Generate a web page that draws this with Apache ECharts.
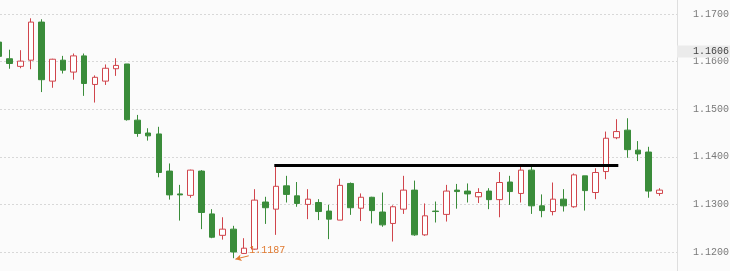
<!DOCTYPE html>
<html>
<head>
<meta charset="utf-8">
<script src="https://cdn.jsdelivr.net/npm/echarts@6/dist/echarts.min.js"></script>
<style>
html,body{margin:0;padding:0;background:#fbfbfb;}
#chart{width:730px;height:271px;}
</style>
</head>
<body>
<div id="chart"></div>
<script>
// candle index (category) positions
const categories = [0,1,2,3,4,5,6,7,8,9,10,11,12,13,14,15,16,17,18,19,20,21,22,23,24,25,26,27,28,29,30,31,32,33,34,35,36,37,38,39,40,41,42,43,44,45,46,47,48,49,50,51,52,53,54,55,56,57,58,59,60,61,62];
const opens  = [1.1641,1.1606,1.1590,1.1603,1.1683,1.1559,1.1603,1.1578,1.1612,1.1552,1.1559,1.1585,1.1595,1.1477,1.1450,1.1448,1.1370,1.1322,1.1319,1.1370,1.1280,1.1235,1.1248,1.1197,1.1206,1.1305,1.1290,1.1339,1.1318,1.1300,1.1304,1.1286,1.1267,1.1344,1.1292,1.1315,1.1284,1.1260,1.1290,1.1330,1.1236,1.1286,1.1279,1.1330,1.1328,1.1316,1.1328,1.1310,1.1347,1.1323,1.1372,1.1297,1.1285,1.1311,1.1295,1.1360,1.1325,1.1369,1.1440,1.1456,1.1414,1.1410,1.1323];
const closes = [1.1611,1.1596,1.1601,1.1683,1.1562,1.1605,1.1582,1.1612,1.1554,1.1567,1.1586,1.1592,1.1478,1.1449,1.1444,1.1367,1.1320,1.1320,1.1372,1.1283,1.1231,1.1248,1.1200,1.1208,1.1309,1.1293,1.1338,1.1321,1.1302,1.1311,1.1285,1.1269,1.1340,1.1293,1.1315,1.1287,1.1257,1.1295,1.1330,1.1236,1.1276,1.1285,1.1328,1.1327,1.1322,1.1325,1.1310,1.1346,1.1327,1.1372,1.1297,1.1287,1.1311,1.1297,1.1362,1.1329,1.1367,1.1439,1.1453,1.1415,1.1406,1.1328,1.1330];
const lows   = [1.1603,1.1585,1.1586,1.1584,1.1536,1.1545,1.1575,1.1562,1.1528,1.1514,1.1551,1.1570,1.1476,1.1442,1.1434,1.1357,1.1310,1.1266,1.1314,1.1248,1.1229,1.1226,1.1187,1.1196,1.1205,1.1259,1.1236,1.1304,1.1295,1.1269,1.1267,1.1227,1.1267,1.1278,1.1265,1.1260,1.1253,1.1222,1.1280,1.1234,1.1234,1.1262,1.1264,1.1291,1.1304,1.1303,1.1290,1.1273,1.1299,1.1304,1.1280,1.1273,1.1277,1.1285,1.1293,1.1287,1.1311,1.1353,1.1437,1.1398,1.1391,1.1314,1.1318];
const highs  = [1.1648,1.1625,1.1624,1.1691,1.1689,1.1606,1.1612,1.1617,1.1617,1.1571,1.1594,1.1607,1.1595,1.1488,1.1460,1.1463,1.1386,1.1341,1.1373,1.1372,1.1290,1.1273,1.1255,1.1229,1.1332,1.1316,1.1383,1.1360,1.1347,1.1332,1.1311,1.1299,1.1354,1.1346,1.1323,1.1316,1.1325,1.1298,1.1360,1.1350,1.1302,1.1306,1.1341,1.1343,1.1344,1.1334,1.1334,1.1368,1.1360,1.1381,1.1381,1.1321,1.1346,1.1332,1.1365,1.1360,1.1376,1.1453,1.1479,1.1481,1.1433,1.1421,1.1334];

// y axis tick levels
const yTicks = [1.11, 1.12, 1.13, 1.14, 1.15, 1.16, 1.17, 1.18];
// annotations
const currentPrice = 1.1606;
const resistanceLevel = 1.1383;
const resistanceSpan = [25.85, 58.15];
const lowIndex = 22;
const lowValue = 1.1187;

const RED = '#d0454c', GREEN = '#3a8c3a';
const MONO = '"Liberation Mono", "DejaVu Sans Mono", monospace';

const candleData = categories.map((c, i) => [c, opens[i], closes[i], lows[i], highs[i]]);

const chart = echarts.init(document.getElementById('chart'), null, {renderer: 'canvas'});
chart.setOption({
  animation: false,
  backgroundColor: '#fbfbfb',
  grid: {left: 0, right: 53, top: -33.6, bottom: -28.6, outerBoundsMode: 'none', containLabel: false},
  xAxis: {
    type: 'value', min: 0.094, max: 63.66,
    show: true,
    axisLine: {show: false}, axisTick: {show: false}, axisLabel: {show: false},
    splitLine: {show: false}
  },
  yAxis: {
    type: 'value', position: 'right',
    min: yTicks[0], max: yTicks[yTicks.length - 1], interval: 0.01,
    axisLine: {show: true, lineStyle: {color: '#dedede', width: 1}},
    axisTick: {show: false},
    axisLabel: {
      show: true, margin: 16, color: '#7a7a7a', fontSize: 10, fontFamily: MONO,
      formatter: v => v.toFixed(4)
    },
    splitLine: {show: true, lineStyle: {color: '#d8d8d8', width: 1, type: [2, 2]}}
  },
  series: [{
    type: 'candlestick',
    data: candleData,
    barWidth: 6,
    clip: true,
    z: 2,
    itemStyle: {
      color: '#ffffff', color0: GREEN,
      borderColor: RED, borderColor0: GREEN, borderWidth: 1
    },
    markLine: {
      silent: true, symbol: 'none', animation: false, z: 10,
      data: [
        [
          {coord: [resistanceSpan[0], resistanceLevel], lineStyle: {color: '#000', width: 3, type: 'solid'}, label: {show: false}},
          {coord: [resistanceSpan[1], resistanceLevel]}
        ],
        {
          yAxis: currentPrice,
          lineStyle: {color: 'rgba(0,0,0,0)', width: 1},
          label: {
            show: true, position: 'end', distance: 0, formatter: currentPrice.toFixed(4),
            color: '#444', fontSize: 10, fontFamily: MONO, opacity: 1,
            backgroundColor: '#ebebeb', padding: [1, 4, 1, 16], offset: [0, -10]
          }
        },
        [
          {coord: [lowIndex + 1.45, lowValue + 0.0005], symbol: 'none', lineStyle: {color: '#e07a30', width: 1, type: 'solid'}, label: {show: false}},
          {coord: [lowIndex + 0.2, lowValue - 0.0002], symbol: 'arrow', symbolSize: [5, 6]}
        ]
      ]
    },
    markPoint: {
      silent: true, animation: false, z: 20, zlevel: 1,
      symbol: 'circle', symbolSize: 0,
      data: [{coord: [lowIndex, lowValue], value: lowValue}],
      label: {
        show: true, position: 'inside', align: 'left', offset: [16, -8],
        formatter: lowValue.toFixed(4),
        color: '#e07a30', fontSize: 10, fontFamily: MONO
      }
    }
  }]
});
</script>
</body>
</html>
